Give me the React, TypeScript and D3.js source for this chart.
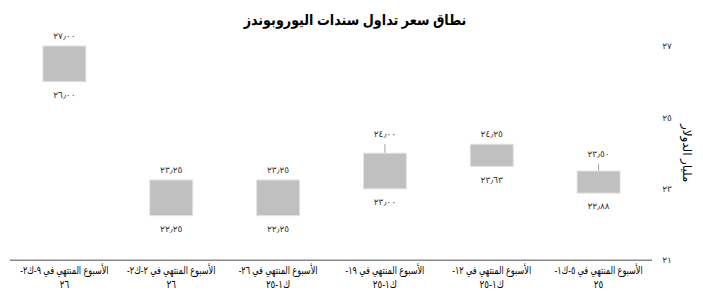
import React from "react";
import * as d3 from "d3";

// chronological order (first = rightmost)
const labelLine1 = [
  "الأسبوع المنتهي في ٥-ك١-",
  "الأسبوع المنتهي في ١٢-",
  "الأسبوع المنتهي في ١٩-",
  "الأسبوع المنتهي في ٢٦-",
  "الأسبوع المنتهي في ٢-ك٢-",
  "الأسبوع المنتهي في ٩-ك٢-",
];
const labelLine2 = ["٢٥", "ك١-٢٥", "ك١-٢٥", "ك١-٢٥", "٢٦", "٢٦"];
const lowValues = [22.88, 23.63, 23.0, 22.25, 22.25, 26.0];
const highValues = [23.5, 24.25, 24.0, 23.25, 23.25, 27.0];
const whiskerValues: (number | null)[] = [23.7, null, 24.25, null, null, null];
const lowLabels = ["٢٢٫٨٨", "٢٣٫٦٣", "٢٣٫٠٠", "٢٢٫٢٥", "٢٢٫٢٥", "٢٦٫٠٠"];
const highLabels = ["٢٣٫٥٠", "٢٤٫٢٥", "٢٤٫٠٠", "٢٣٫٢٥", "٢٣٫٢٥", "٢٧٫٠٠"];
const yTicks = [21, 23, 25, 27];
const yTickLabels = ["٢١", "٢٣", "٢٥", "٢٧"];
const title = "نطاق سعر تداول سندات اليوروبوندز";
const yTitle = "مليار الدولار";

const W = 703;
const H = 301;
const FONT = "Arial, 'Liberation Sans', 'DejaVu Sans', sans-serif";

export default function App() {
  const idx = lowValues.map((_, i) => i);
  const x = d3.scalePoint<number>().domain(idx).range([652, 11]).padding(0.5);
  const y = d3.scaleLinear().domain([21, 27]).range([260.3, 46]);
  const boxW = 43;

  return (
    <svg
      width={W}
      height={H}
      style={{ position: "absolute", left: 0, top: 0, background: "#fff" }}
      fontFamily={FONT}
    >
      <g transform="translate(355,25) scale(0.85,1)">
        <text
          x={0}
          y={0}
          textAnchor="middle"
          fontSize={15}
          fontWeight="bold"
          fill="#000"
          direction="rtl"
        >
          {title}
        </text>
      </g>

      {/* y axis ticks (right side) */}
      {yTicks.map((t, i) => (
        <text
          key={t}
          x={667}
          y={y(t)}
          dy="0.35em"
          textAnchor="middle"
          fontSize={9}
          fill="#333"
        >
          {yTickLabels[i]}
        </text>
      ))}
      <text
        transform={`translate(683,${y(24.0)}) rotate(90)`}
        textAnchor="middle"
        fontSize={12}
        fill="#000"
        direction="rtl"
      >
        {yTitle}
      </text>

      {/* baseline axis */}
      <line
        x1={10}
        x2={652}
        y1={y(21)}
        y2={y(21)}
        stroke="#888"
        strokeWidth={1.5}
      />

      {idx.map((i) => {
        const cx = x(i)!;
        const yTop = y(highValues[i]);
        const yBot = y(lowValues[i]);
        const wv = whiskerValues[i];
        const topMost = wv != null ? y(wv) : yTop;
        return (
          <g key={i}>
            {wv != null && (
              <line x1={cx} x2={cx} y1={y(wv)} y2={yTop} stroke="#a0a0a0" strokeWidth={1} />
            )}
            <rect
              x={cx - boxW / 2}
              y={yTop}
              width={boxW}
              height={yBot - yTop}
              fill="#c0c0c0"
              stroke="#e4e4e4"
              strokeWidth={1}
            />
            <text
              x={cx}
              y={topMost - 10}
              dy="0.35em"
              textAnchor="middle"
              fontSize={9}
              fill="#333"
            >
              {highLabels[i]}
            </text>
            <text
              x={cx}
              y={yBot + 13}
              dy="0.35em"
              textAnchor="middle"
              fontSize={9}
              fill="#333"
            >
              {lowLabels[i]}
            </text>
            <g transform={`translate(${cx},270) scale(0.74,1)`}>
              <text
                x={0}
                y={0}
                dy="0.35em"
                textAnchor="middle"
                fontSize={11}
                fill="#000"
                direction="rtl"
              >
                {labelLine1[i]}
              </text>
            </g>
            <g transform={`translate(${cx},284) scale(0.8,1)`}>
              <text
                x={0}
                y={0}
                dy="0.35em"
                textAnchor="middle"
                fontSize={11}
                fill="#000"
                direction="rtl"
              >
                {labelLine2[i]}
              </text>
            </g>
          </g>
        );
      })}
    </svg>
  );
}
